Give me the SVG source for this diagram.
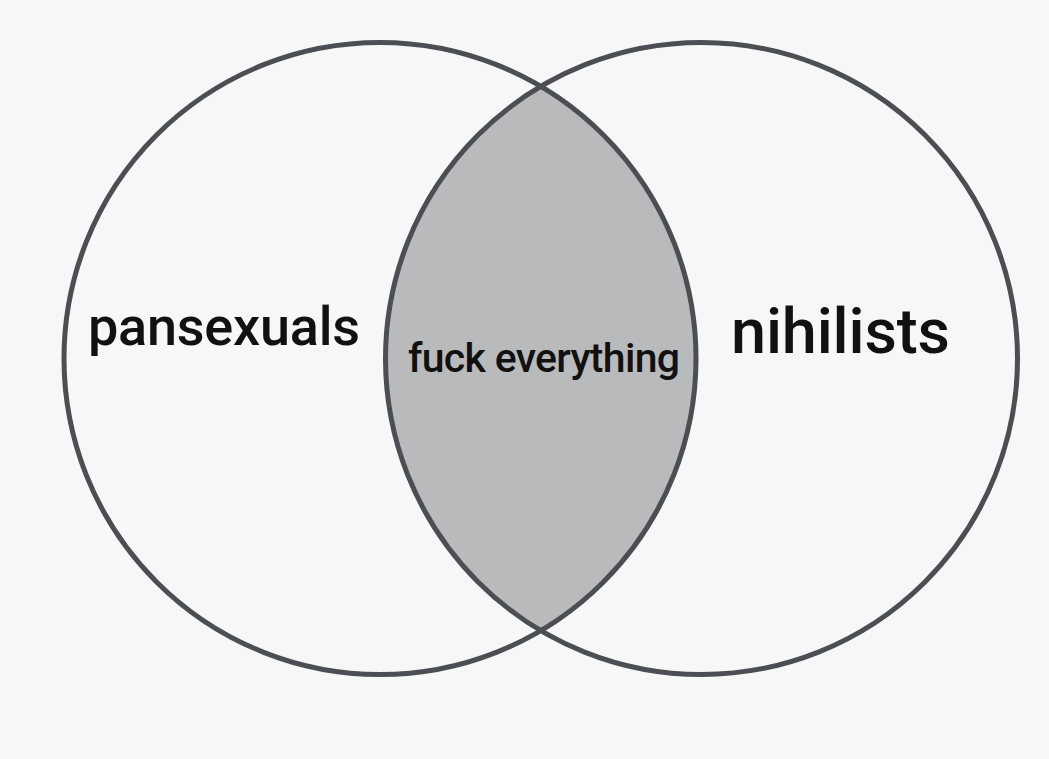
<svg xmlns="http://www.w3.org/2000/svg" width="1049" height="759" viewBox="0 0 1049 759">
<style>
.c{fill:none;stroke:#4b4e53;stroke-width:5}
.t{font-family:Roboto,"Liberation Sans",sans-serif;font-weight:500;fill:#111}
</style>
<defs>
<clipPath id="clipL"><circle cx="380" cy="358.5" r="316"/></clipPath>
</defs>
<rect width="1049" height="759" fill="#f7f7f7"/>
<g id="intersection">
<circle cx="701.5" cy="358.5" r="316" fill="#b9babc" clip-path="url(#clipL)"/>
</g>
<g id="pansexuals">
<circle class="c" cx="380" cy="358.5" r="316"/>
<text class="t" x="88" y="345" font-size="54" textLength="272">pansexuals</text>
</g>
<g id="nihilists">
<circle class="c" cx="701.5" cy="358.5" r="316"/>
<text class="t" x="731" y="353" font-size="63" textLength="219">nihilists</text>
</g>
<g id="fuck-everything">
<text class="t" x="408" y="372" font-size="41" textLength="272">fuck everything</text>
</g>
</svg>
